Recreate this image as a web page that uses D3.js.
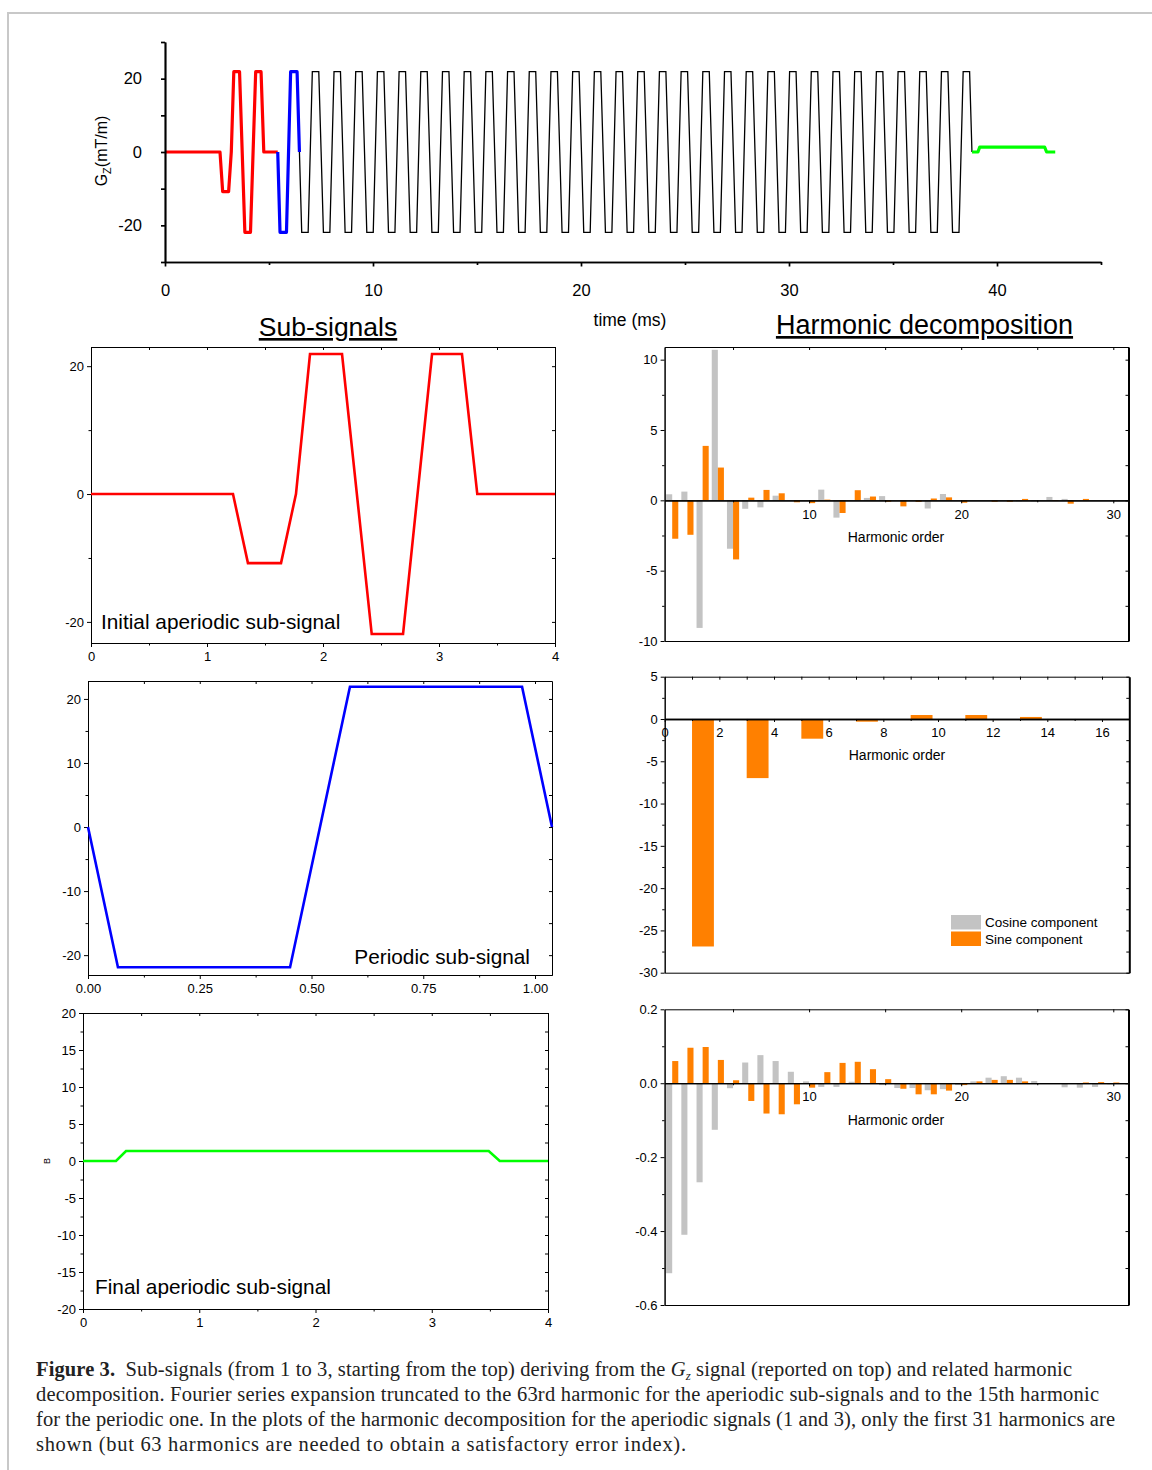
<!DOCTYPE html>
<html>
<head>
<meta charset="utf-8">
<script src="https://cdn.jsdelivr.net/npm/d3@7"></script>
<style>
  body { margin: 0; background: #fff; }
  svg { display: block; font-family: "Liberation Sans", Arial, sans-serif; }
  .ax path, .ax line { stroke: #000; }
  .ax text { fill: #000; }
</style>
</head>
<body>
<svg id="fig" width="1152" height="1470"></svg>
<script>
// ---- sub-signals (time in ms, Gz in mT/m) ----
var sub1T = [0, 1.224, 1.353, 1.638, 1.767, 1.888, 2.164, 2.42, 2.69, 2.94, 3.198, 3.33, 4];
var sub1G = [0, 0, -10.8, -10.8, 0, 21.9, 21.9, -21.9, -21.9, 21.9, 21.9, 0, 0];
var sub2T = [0, 0.067, 0.452, 0.586, 0.971, 1.038];
var sub2G = [0, -21.9, -21.9, 21.9, 21.9, 0];
var sub3T = [0, 0.284, 0.37, 3.49, 3.585, 4];
var sub3G = [0, 0, 1.35, 1.35, 0, 0];

// ---- full Gz waveform (top plot) ----
var topCycleT = [0, 0.11, 0.42, 0.62, 0.93, 1.043];
var topCycleG = [0, -21.9, -21.9, 21.9, 21.9, 0];
var redStart = 1.42, cycleStart = 5.42, cyclePeriod = 1.043, blackCycles = 31, greenStart = 38.8;

// ---- harmonic decomposition ----
var orders31 = d3.range(1, 31);
var h1Cos = [0.43, 0.62, -9.07, 10.7, -3.44, -0.6, -0.5, 0.33, 0, 0, 0.76, -1.23, 0, 0.17, 0.3,
             0, 0, -0.58, 0.45, 0, 0, 0, 0, -0.07, -0.07, 0.24, 0.1, 0, 0, 0];
var h1Sin = [-2.73, -2.45, 3.87, 2.33, -4.2, 0.19, 0.74, 0.5, -0.14, -0.2, 0.05, -0.9, 0.72, 0.27, -0.1,
             -0.43, -0.11, 0.13, 0.21, -0.17, 0, -0.1, -0.1, 0.1, 0, -0.05, -0.24, 0.1, 0, 0];
var orders16 = d3.range(1, 17);
var h2Cos = [0, 0, 0, 0, 0, 0, 0, 0, 0, 0, 0, 0, 0, 0, 0, 0];
var h2Sin = [-26.9, 0, -6.99, 0, -2.33, 0, -0.32, 0, 0.47, 0, 0.47, 0, 0.24, 0, 0, 0];
var h3Cos = [-0.514, -0.41, -0.268, -0.126, -0.0135, 0.056, 0.076, 0.06, 0.031, 0.005, -0.01, -0.01, 0.004, 0, -0.005,
             -0.013, -0.013, -0.019, -0.016, -0.005, 0.005, 0.015, 0.019, 0.015, 0.006, -0.002, -0.011, -0.012, -0.01, -0.003];
var h3Sin = [0.06, 0.096, 0.098, 0.063, 0.008, -0.048, -0.082, -0.084, -0.057, -0.012, 0.03, 0.055, 0.058, 0.038, 0.011,
             -0.015, -0.03, -0.03, -0.02, -0.005, 0.005, 0.009, 0.009, 0.005, 0, 0, 0, 0.002, 0.003, 0.002];

var COS = '#c3c3c3', SIN = '#ff8000';

var svg = d3.select('#fig');

// frame
svg.append('path').attr('d', 'M8,1470V13H1152')
    .attr('fill', 'none').attr('stroke', '#c8c8c8').attr('stroke-width', 2);

// plain hyphen minus, like the original plots
function fmt(spec) {
    var f = d3.format(spec);
    return function(v) { return f(v).replace('\u2212', '-'); };
}

function styleAxis(sel, size) {
    sel.attr('class', 'ax').attr('font-family', null).attr('font-size', size);
    return sel;
}

function shift(ts, gs, dt) {
    return ts.map(function(t, i) { return [t + dt, gs[i]]; });
}

// ================= top plot =================
(function() {
    var x = d3.scaleLinear().domain([0, 45]).range([165, 1101]),
        y = d3.scaleLinear().domain([-30, 30]).range([262, 42]),
        g = svg.append('g'),
        line = d3.line().x(function(d) { return x(d[0]); }).y(function(d) { return y(d[1]); });

    var red = [[0, 0]].concat(shift(sub1T, sub1G, redStart)),
        blue = shift(topCycleT, topCycleG, cycleStart),
        black = [],
        green = shift(sub3T, sub3G, greenStart);
    for (var k = 1; k <= blackCycles; k++) {
        black = black.concat(shift(topCycleT, topCycleG, cycleStart + k * cyclePeriod));
    }

    g.append('path').datum(black).attr('d', line)
        .attr('fill', 'none').attr('stroke', '#000').attr('stroke-width', 1.3);
    [[red, '#ff0000'], [blue, '#0000ff'], [green, '#00ff00']].forEach(function(s) {
        g.append('path').datum(s[0]).attr('d', line)
            .attr('fill', 'none').attr('stroke', s[1]).attr('stroke-width', 3.2)
            .attr('stroke-linejoin', 'round');
    });

    styleAxis(g.append('g').attr('transform', 'translate(0,262)')
        .call(d3.axisBottom(x).tickValues([0, 10, 20, 30, 40]).tickSize(4.5).tickSizeOuter(0).tickPadding(18).tickFormat(fmt('d'))), 16.5);
    styleAxis(g.append('g').attr('transform', 'translate(0,262)')
        .call(d3.axisBottom(x).tickValues([5, 15, 25, 35, 45]).tickSize(3).tickSizeOuter(0).tickFormat('')), 16);
    styleAxis(g.append('g').attr('transform', 'translate(165,0)')
        .call(d3.axisLeft(y).tickValues([-20, 0, 20]).tickSize(4).tickSizeOuter(0).tickPadding(19).tickFormat(fmt('d'))), 16.5);
    styleAxis(g.append('g').attr('transform', 'translate(165,0)')
        .call(d3.axisLeft(y).tickValues([-30, -10, 10, 30]).tickSize(4).tickSizeOuter(0).tickFormat('')), 16);
    g.selectAll('.ax path, .ax line').attr('stroke-width', 1.7);

    var lab = g.append('text').attr('transform', 'translate(107,151) rotate(-90)')
        .attr('text-anchor', 'middle').attr('font-size', 16);
    lab.append('tspan').text('G');
    lab.append('tspan').attr('font-size', 11).attr('dy', 4).text('Z');
    lab.append('tspan').attr('dy', -4).text('(mT/m)');

    g.append('text').attr('x', 630).attr('y', 326).attr('text-anchor', 'middle')
        .attr('font-size', 17.5).text('time (ms)');
})();

// titles
svg.append('text').attr('x', 328).attr('y', 336).attr('text-anchor', 'middle')
    .attr('font-size', 26.5).style('text-decoration', 'underline').text('Sub-signals');
svg.append('text').attr('x', 924.5).attr('y', 334).attr('text-anchor', 'middle')
    .attr('font-size', 27).style('text-decoration', 'underline').text('Harmonic decomposition');

// ================= sub-signal panels =================
function signalPanel(o) {
    var x = d3.scaleLinear().domain(o.xDom).range([o.left, o.right]),
        y = d3.scaleLinear().domain(o.yDom).range([o.bottom, o.top]),
        g = svg.append('g'),
        line = d3.line().x(function(d) { return x(d[0]); }).y(function(d) { return y(d[1]); });

    styleAxis(g.append('g').attr('transform', 'translate(0,' + o.bottom + ')')
        .call(d3.axisBottom(x).tickValues(o.xTicks).tickSize(4).tickSizeOuter(0).tickPadding(5).tickFormat(o.xFmt)), 13);
    styleAxis(g.append('g').attr('transform', 'translate(0,' + o.bottom + ')')
        .call(d3.axisBottom(x).tickValues(o.xMinor).tickSize(2.5).tickSizeOuter(0).tickFormat('')), 13);
    styleAxis(g.append('g').attr('transform', 'translate(' + o.left + ',0)')
        .call(d3.axisLeft(y).tickValues(o.yTicks).tickSize(4).tickSizeOuter(0).tickPadding(3).tickFormat(fmt('d'))), 13);
    styleAxis(g.append('g').attr('transform', 'translate(' + o.left + ',0)')
        .call(d3.axisLeft(y).tickValues(o.yMinor).tickSize(2.5).tickSizeOuter(0).tickFormat('')), 13);
    // top and right borders with inward ticks
    styleAxis(g.append('g').attr('transform', 'translate(0,' + o.top + ')')
        .call(d3.axisBottom(x).tickValues(o.xTicks.concat(o.xMinor)).tickSize(3).tickSizeOuter(0).tickFormat('')), 13);
    styleAxis(g.append('g').attr('transform', 'translate(' + o.right + ',0)')
        .call(d3.axisLeft(y).tickValues(o.yTicks.concat(o.yMinor)).tickSize(3).tickSizeOuter(0).tickFormat('')), 13);
    g.selectAll('.ax path').attr('stroke', '#333');

    g.append('path').datum(d3.zip(o.t, o.v)).attr('d', line)
        .attr('fill', 'none').attr('stroke', o.color).attr('stroke-width', 2.6)
        .attr('stroke-linejoin', 'miter');

    g.append('text').attr('x', o.labelX).attr('y', o.labelY).attr('text-anchor', o.labelAnchor || 'start')
        .attr('font-size', 20.8).text(o.label);
    return g;
}

signalPanel({
    left: 91, right: 555, top: 347, bottom: 643,
    xDom: [0, 4], yDom: [-23.3, 23], t: sub1T, v: sub1G, color: '#ff0000',
    xTicks: [0, 1, 2, 3, 4], xMinor: [0.5, 1.5, 2.5, 3.5], xFmt: fmt('d'),
    yTicks: [-20, 0, 20], yMinor: [-10, 10],
    label: 'Initial aperiodic sub-signal', labelX: 101, labelY: 629
});

signalPanel({
    left: 88, right: 552, top: 681, bottom: 975,
    xDom: [0, 1.038], yDom: [-23.1, 22.8], t: sub2T, v: sub2G, color: '#0000ff',
    xTicks: [0, 0.25, 0.5, 0.75, 1], xMinor: [0.125, 0.375, 0.625, 0.875], xFmt: fmt('.2f'),
    yTicks: [-20, -10, 0, 10, 20], yMinor: [-15, -5, 5, 15],
    label: 'Periodic sub-signal', labelX: 530, labelY: 964, labelAnchor: 'end'
});

var p3 = signalPanel({
    left: 83, right: 548, top: 1013, bottom: 1309,
    xDom: [0, 4], yDom: [-20, 20], t: sub3T, v: sub3G, color: '#00ff00',
    xTicks: [0, 1, 2, 3, 4], xMinor: [0.5, 1.5, 2.5, 3.5], xFmt: fmt('d'),
    yTicks: d3.range(-20, 21, 5), yMinor: d3.range(-17.5, 20, 5),
    label: 'Final aperiodic sub-signal', labelX: 95, labelY: 1294
});
p3.append('text').attr('transform', 'translate(50,1161) rotate(-90)')
    .attr('text-anchor', 'middle').attr('font-size', 9).text('B');

// ================= harmonic panels =================
function harmonicPanel(o) {
    var x = d3.scaleLinear().domain(o.xDom).range([o.left, o.right]),
        y = d3.scaleLinear().domain(o.yDom).range([o.bottom, o.top]),
        g = svg.append('g');

    function bars(vals, off, color) {
        g.append('g').selectAll('rect').data(d3.zip(o.n, vals)).join('rect')
            .attr('x', function(d) { return x(d[0] + off); })
            .attr('width', function() { return x(o.xDom[0] + o.barW) - x(o.xDom[0]); })
            .attr('y', function(d) { return y(Math.max(0, d[1])); })
            .attr('height', function(d) { return Math.abs(y(d[1]) - y(0)); })
            .attr('fill', color);
    }
    bars(o.cos, -o.barW, COS);
    bars(o.sin, 0, SIN);

    var y0 = y(0);
    styleAxis(g.append('g').attr('transform', 'translate(0,' + y0 + ')')
        .call(d3.axisBottom(x).tickValues(o.xTicks).tickSize(3).tickSizeOuter(0).tickPadding(6).tickFormat(fmt('d'))), 13);
    styleAxis(g.append('g').attr('transform', 'translate(0,' + y0 + ')')
        .call(d3.axisBottom(x).tickValues(o.xMinor).tickSize(2).tickSizeOuter(0).tickFormat('')), 13);
    g.selectAll('.ax path').attr('stroke-width', 1.3);
    styleAxis(g.append('g').attr('transform', 'translate(' + o.left + ',0)')
        .call(d3.axisLeft(y).tickValues(o.yTicks).tickSize(4).tickSizeOuter(0).tickPadding(3).tickFormat(o.yFmt)), 13);
    styleAxis(g.append('g').attr('transform', 'translate(' + o.left + ',0)')
        .call(d3.axisLeft(y).tickValues(o.yMinor).tickSize(2.5).tickSizeOuter(0).tickFormat('')), 13);
    styleAxis(g.append('g').attr('transform', 'translate(0,' + o.top + ')')
        .call(d3.axisBottom(x).tickValues(o.xTicks.concat(o.xMinor)).tickSize(3).tickSizeOuter(0).tickFormat('')), 13);
    styleAxis(g.append('g').attr('transform', 'translate(0,' + o.bottom + ')')
        .call(d3.axisTop(x).tickValues([]).tickSizeOuter(0)), 13);
    var r = styleAxis(g.append('g').attr('transform', 'translate(' + o.right + ',0)')
        .call(d3.axisLeft(y).tickValues(o.yTicks.concat(o.yMinor)).tickSize(3).tickSizeOuter(0).tickFormat('')), 13);
    r.select('path').attr('stroke-width', 2);

    g.append('text').attr('x', o.titleX).attr('y', o.titleY).attr('text-anchor', 'middle')
        .attr('font-size', 14).text('Harmonic order');
    return g;
}

harmonicPanel({
    left: 664.6, right: 1128.5, top: 347, bottom: 641,
    xDom: [0.5, 31], yDom: [-10, 10.9], n: orders31, cos: h1Cos, sin: h1Sin, barW: 0.4,
    xTicks: [10, 20, 30], xMinor: [5, 15, 25],
    yTicks: [-10, -5, 0, 5, 10], yMinor: [-7.5, -2.5, 2.5, 7.5], yFmt: fmt('d'),
    titleX: 896, titleY: 542
});

var h2 = harmonicPanel({
    left: 664.7, right: 1129.3, top: 676.7, bottom: 972.7,
    xDom: [0, 17], yDom: [-30, 5], n: orders16, cos: h2Cos, sin: h2Sin, barW: 0.8,
    xTicks: d3.range(0, 17, 2), xMinor: d3.range(1, 17, 2),
    yTicks: d3.range(-30, 6, 5), yMinor: d3.range(-27.5, 5, 5), yFmt: fmt('d'),
    titleX: 897, titleY: 760
});

// legend
var legend = h2.append('g').attr('transform', 'translate(951,915)');
[['Cosine component', COS], ['Sine component', SIN]].forEach(function(d, i) {
    legend.append('rect').attr('x', 0).attr('y', i * 16.5).attr('width', 30).attr('height', 14.5).attr('fill', d[1]);
    legend.append('text').attr('x', 34).attr('y', i * 16.5 + 12).attr('font-size', 13.5).text(d[0]);
});

harmonicPanel({
    left: 664.6, right: 1128.5, top: 1009.3, bottom: 1305,
    xDom: [0.5, 31], yDom: [-0.6, 0.2], n: orders31, cos: h3Cos, sin: h3Sin, barW: 0.4,
    xTicks: [10, 20, 30], xMinor: [5, 15, 25],
    yTicks: [-0.6, -0.4, -0.2, 0, 0.2], yMinor: [-0.5, -0.3, -0.1, 0.1], yFmt: fmt('.1f'),
    titleX: 896, titleY: 1125
});

// ================= caption =================
var cap = svg.append('g').attr('font-family', '"Liberation Serif", "Times New Roman", serif')
    .attr('font-size', 20.5).attr('fill', '#222');
var l1 = cap.append('text').attr('x', 36).attr('y', 1376)
    .attr('textLength', 1036).attr('lengthAdjust', 'spacing');
l1.append('tspan').attr('font-weight', 'bold').text('Figure 3.');
l1.append('tspan').text('\u2002Sub-signals (from 1 to 3, starting from the top) deriving from the ');
l1.append('tspan').attr('font-style', 'italic').text('G');
l1.append('tspan').attr('font-style', 'italic').attr('font-size', 13).attr('dy', 4).text('z');
l1.append('tspan').attr('dy', -4).text(' signal (reported on top) and related harmonic');
cap.append('text').attr('x', 36).attr('y', 1401).attr('textLength', 1063).attr('lengthAdjust', 'spacing')
    .text('decomposition. Fourier series expansion truncated to the 63rd harmonic for the aperiodic sub-signals and to the 15th harmonic');
cap.append('text').attr('x', 36).attr('y', 1426).attr('textLength', 1079).attr('lengthAdjust', 'spacing')
    .text('for the periodic one. In the plots of the harmonic decomposition for the aperiodic signals (1 and 3), only the first 31 harmonics are');
cap.append('text').attr('x', 36).attr('y', 1451).attr('textLength', 650).attr('lengthAdjust', 'spacing')
    .text('shown (but 63 harmonics are needed to obtain a satisfactory error index).');
</script>
</body>
</html>
